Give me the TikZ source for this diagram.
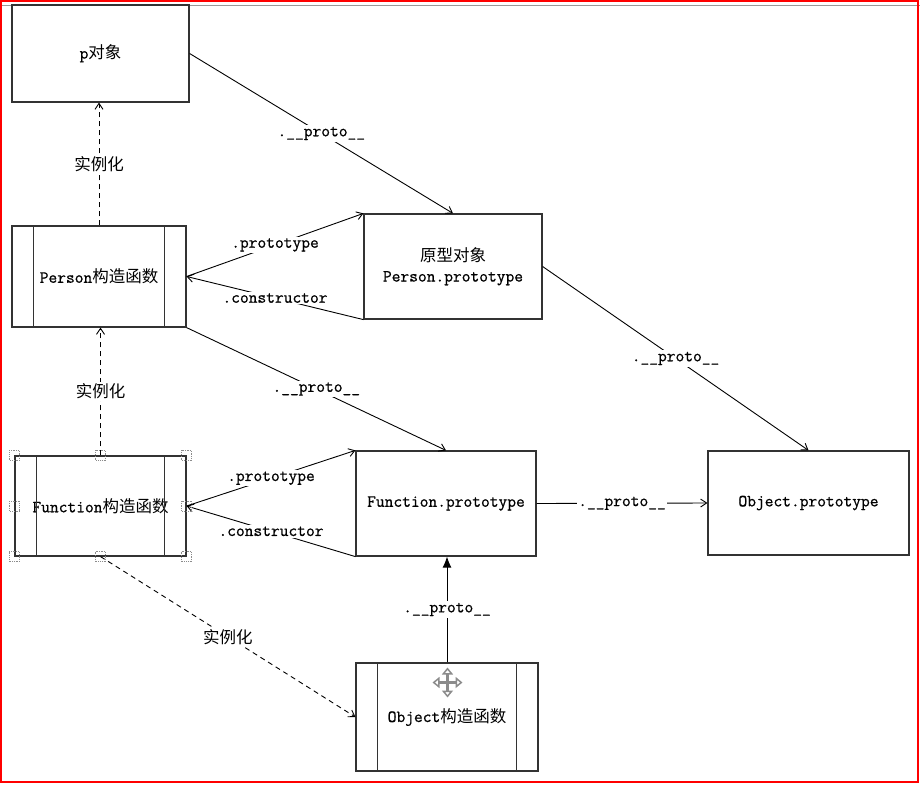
\documentclass[tikz,border=0pt]{standalone}
\usepackage{fontspec}
\setmonofont{Latin Modern Mono}[FakeBold=0.8]
\newfontfamily\cjk{Noto Sans CJK SC}
\usetikzlibrary{arrows.meta}
\newcommand{\zh}[1]{{\cjk\fontsize{16.5}{19}\selectfont #1}}

\begin{document}
\begin{tikzpicture}[x=1pt, y=-1pt, >={Straight Barb[length=6pt,width=8pt]},
  box/.style={draw=black!80, line width=1.2pt, inner sep=0pt, align=center,
    font=\ttfamily\fontsize{17}{20}\selectfont},
  lab/.style={fill=white, inner sep=1.5pt, font=\ttfamily\fontsize{17}{19}\selectfont},
  link/.style={->, line width=.9pt},
  inst/.style={->, dash pattern=on 5pt off 4pt, line width=.9pt},
  handle/.style={black!45, densely dotted, line width=.8pt}]
\useasboundingbox (0,0) rectangle (920,784);
\draw[black!40](0,5)--(920,5);
\draw[red, line width=2pt](1,1) rectangle (918,782);

\node[box, minimum width=177, minimum height=97] (p) at (100.5,53.5) {p\zh{对象}};
\node[box, minimum width=174, minimum height=101] (pc) at (99,276.5) {Person\zh{构造函数}};
\node[box, minimum width=178, minimum height=105] (pp) at (453,266.5) {\zh{原型对象}\\Person.prototype};
\node[box, minimum width=171, minimum height=100] (fc) at (100.5,506) {Function\zh{构造函数}};
\node[box, minimum width=180, minimum height=105] (fp) at (446,503.5) {Function.prototype};
\node[box, minimum width=201, minimum height=104] (op) at (808.5,503) {Object.prototype};
\node[box, minimum width=182, minimum height=108] (oc) at (447,717) {Object\zh{构造函数}};
\foreach \n in {pc,fc,oc}{
  \draw[black!80, line width=1.2pt]([xshift=22pt]\n.north west)--([xshift=22pt]\n.south west);
  \draw[black!80, line width=1.2pt]([xshift=-22pt]\n.north east)--([xshift=-22pt]\n.south east);
}

\draw[link](p.east)--node[lab]{.\_\_proto\_\_}(pp.north);
\draw[inst](pc.north)--node[lab]{\zh{实例化}}(pc.north |- p.south);
\draw[link](pc.east)--node[lab]{.prototype}(pp.north west);
\draw[link](pp.south west)--node[lab]{.constructor}(pc.east);
\draw[link](pc.south east)--node[lab]{.\_\_proto\_\_}(fp.north);
\draw[link](pp.east)--node[lab]{.\_\_proto\_\_}(op.north);

\draw[inst](fc.north)--node[lab]{\zh{实例化}}(fc.north |- pc.south);
\draw[link](fc.east)--node[lab]{.prototype}(fp.north west);
\draw[link](fp.south west)--node[lab]{.constructor}(fc.east);
\draw[link](fp.east)--node[lab]{.\_\_proto\_\_}(op.west);
\draw[-{Latex[length=11pt,width=9pt]}, line width=.9pt](oc.north)--node[lab]{.\_\_proto\_\_}(oc.north |- fp.south);
\draw[inst](fc.south)--node[lab]{\zh{实例化}}(oc.west);

% selection handles and move icon
\foreach \a in {north west,north,north east,west,east,south west,south,south east}
  \draw[handle](fc.\a)+(-5,-5) rectangle +(5,5);
\coordinate (mv) at (447.5,682.5);
\draw[black!45, line width=2.5pt, {Triangle[open,length=7pt,width=11pt,line width=1.5pt]}-{Triangle[open,length=7pt,width=11pt,line width=1.5pt]}]
  ([xshift=-15pt]mv)--([xshift=15pt]mv);
\draw[black!45, line width=2.5pt, {Triangle[open,length=7pt,width=11pt,line width=1.5pt]}-{Triangle[open,length=7pt,width=11pt,line width=1.5pt]}]
  ([yshift=-15pt]mv)--([yshift=15pt]mv);
\end{tikzpicture}
\end{document}
